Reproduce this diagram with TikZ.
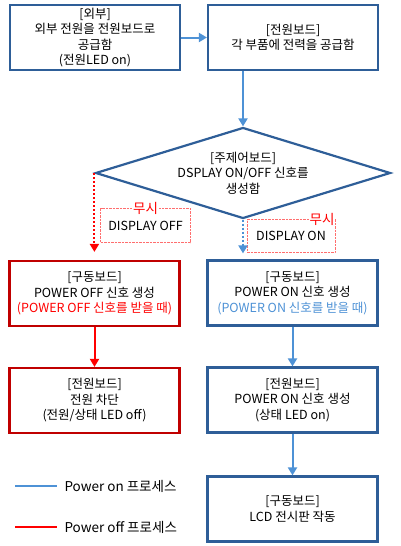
\documentclass[tikz,border=0pt]{standalone}
\usepackage{fontspec}
\setmainfont{Noto Sans CJK KR}
\usepackage{xcolor}
\definecolor{boxblue}{RGB}{46,94,152}
\definecolor{onblue}{RGB}{78,146,214}
\definecolor{boxred}{RGB}{192,0,0}
\definecolor{offred}{RGB}{255,0,0}
\definecolor{skipred}{RGB}{255,110,110}
\usetikzlibrary{arrows.meta,positioning,shapes.geometric,calc}

\begin{document}
\begin{tikzpicture}[x=1pt, y=-1pt, font=\fontsize{12.5}{15.5}\selectfont]
    \tikzset{stepbox/.style={rectangle, minimum width=170pt, minimum height=65pt,
      draw=boxblue, line width=2.2pt, fill=white, align=center, inner sep=1pt}}
    \tikzset{offbox/.style={stepbox, draw=boxred}}
    \tikzset{skipbox/.style={rectangle, draw=skipred, line width=0.8pt,
      dash pattern=on 2.5pt off 1pt, minimum height=33pt, inner sep=0pt}}
    \tikzset{skiptag/.style={fill=white, text=offred, inner sep=1pt,
      font=\fontsize{13.5}{15}\selectfont}}
    \tikzset{onflow/.style={-{Triangle[length=8pt, width=9pt]}, onblue, line width=2pt}}
    \tikzset{offflow/.style={-{Triangle[length=8pt, width=9pt]}, offred, line width=2pt}}

    \useasboundingbox (0,0) rectangle (400,546);

    % top row
    \node[stepbox] (ext) at (95,37.5) {[외부]\\외부 전원을 전원보드로\\공급함\\(전원LED on)};
    \node[stepbox] (psu) at (293,37.5) {[전원보드]\\각 부품에 전력을 공급함};

    % main board decision
    \node[diamond, draw=boxblue, line width=2.2pt, minimum width=295pt,
          minimum height=91pt, inner sep=0pt] (main) at (243,173) {};
    \node[align=center] (maintxt) at (main.center)
      {[주제어보드]\\DSPLAY ON/OFF 신호를\\생성함};

    % ignore boxes
    \node[skipbox, minimum width=90pt, minimum height=34pt] (skipoff) at (145.5,225.5) {DISPLAY OFF};
    \node[skiptag] (skipofftag) at (skipoff.north) {무시};
    \node[skipbox, minimum width=88pt] (skipon) at (291,236) {DISPLAY ON};
    \node[skiptag] (skipontag) at (322,219) {무시};

    % driver boards
    \node[offbox] (drvoff) at (94.5,293.5)
      {[구동보드]\\POWER OFF 신호 생성\\\textcolor{offred}{(POWER OFF 신호를 받을 때)}};
    \node[stepbox] (drvon) at (292.5,293)
      {[구동보드]\\POWER ON 신호 생성\\\textcolor{onblue}{(POWER ON 신호를 받을 때)}};

    % power boards
    \node[offbox] (psuoff) at (94.5,400.5) {[전원보드]\\전원 차단\\(전원/상태 LED off)};
    \node[stepbox] (psuon) at (292.5,400) {[전원보드]\\POWER ON 신호 생성\\(상태 LED on)};

    % display
    \node[stepbox] (lcd) at (292.5,509) {[구동보드]\\LCD 전시판 작동};

    % flow arrows
    \draw[onflow] (ext.east) -- (psu.west);
    \draw[onflow] (psu.south -| main.north) -- (main.north);
    \draw[offflow, dotted] (main.west) -- ([yshift=8pt]drvoff.north -| main.west);
    \draw[onflow, dotted] (main.south) -- ([yshift=6pt]drvon.north -| main.south);
    \draw[offflow] (drvoff.south) -- (psuoff.north);
    \draw[onflow] (drvon.south) -- (psuon.north);
    \draw[onflow] (psuon.south) -- (lcd.north);

    % legend
    \coordinate (onA) at (15,486);
    \coordinate (onB) at (57,486);
    \coordinate (offA) at (15,527);
    \coordinate (offB) at (57,527);
    \draw[onblue, line width=2pt] (onA) -- (onB);
    \draw[offred, line width=2pt] (offA) -- (offB);
    \node[anchor=west, font=\fontsize{13.5}{15}\selectfont] (onkey) at (61,486) {Power on 프로세스};
    \node[anchor=west, font=\fontsize{13.5}{15}\selectfont] (offkey) at (61,527) {Power off 프로세스};
\end{tikzpicture}
\end{document}
